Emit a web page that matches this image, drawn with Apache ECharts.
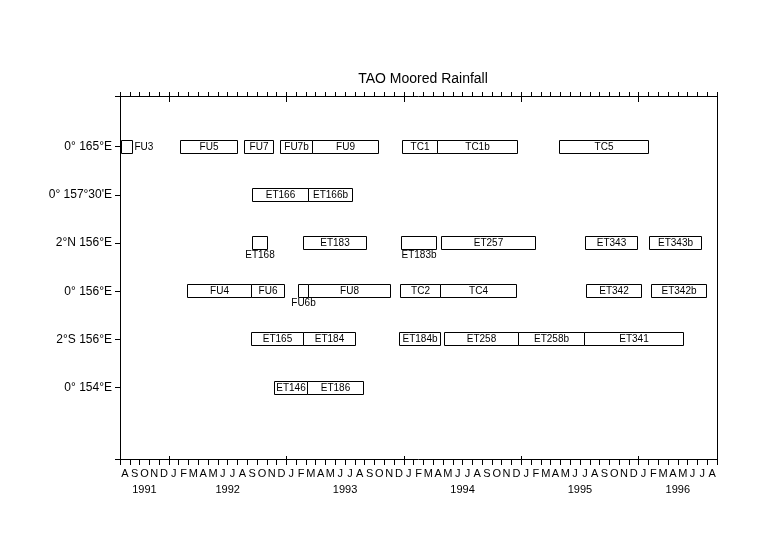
<!DOCTYPE html>
<html><head><meta charset="utf-8">
<script src="https://cdn.jsdelivr.net/npm/echarts@6/dist/echarts.min.js"></script>
<style>html,body{margin:0;padding:0;background:#fff}#chart{width:770px;height:550px}</style>
</head><body><div id="chart"></div>
<script>
// x values are months since 1 Aug 1991 (0 = 1 Aug 1991, 61 = 1 Sep 1996)
const rowLabels = ['0° 165°E', '0° 157°30\'E', '2°N 156°E', '0° 156°E', '2°S 156°E', '0° 154°E'];
const monthLetters = ['J','F','M','A','M','J','J','A','S','O','N','D'];
const yearLabels = ['1991','1992','1993','1994','1995','1996'];
const yearLabelAt = [2.5, 11, 23, 35, 47, 57];
const yearStartAt = [5, 17, 29, 41, 53];

const deployName  = ['FU3','FU5','FU7','FU7b','FU9','TC1','TC1b','TC5',
                     'ET166','ET166b',
                     'ET168','ET183','ET183b','ET257','ET343','ET343b',
                     'FU4','FU6','FU6b','FU8','TC2','TC4','ET342','ET342b',
                     'ET165','ET184','ET184b','ET258','ET258b','ET341',
                     'ET146','ET186'];
const deployRow   = [1,1,1,1,1,1,1,1,
                     2,2,
                     3,3,3,3,3,3,
                     4,4,4,4,4,4,4,4,
                     5,5,5,5,5,5,
                     6,6];
const deployStart = [0.10, 6.13, 12.68, 16.36, 19.60, 28.80, 32.40, 44.90,
                     13.46, 19.25,
                     13.50, 18.65, 28.70, 32.80, 47.50, 54.10,
                     6.88, 13.36, 18.23, 19.25, 28.56, 32.70, 47.60, 54.26,
                     13.36, 18.65, 28.46, 33.06, 40.70, 47.40,
                     15.70, 19.15];
const deployEnd   = [1.20, 12.00, 15.60, 19.60, 26.40, 32.40, 40.60, 53.95,
                     19.25, 23.75,
                     15.00, 25.10, 32.30, 42.40, 52.80, 59.40,
                     13.36, 16.77, 19.25, 27.60, 32.70, 40.46, 53.20, 59.90,
                     18.65, 24.00, 32.65, 40.70, 47.40, 57.50,
                     19.15, 24.80];

// label placement for boxes too small to hold their label
const labelOutside = {FU3: 'right', ET168: 'bottom', ET183b: 'bottom', FU6b: 'bottom'};

const X_MIN = 0, X_MAX = 61, Y_MIN = -0.05, Y_MAX = 7.48;
const FONT = '"Liberation Sans", Arial, sans-serif';

const monthCenters = [];
for (let k = X_MIN; k < X_MAX; k++) monthCenters.push(k + 0.5);

const data = deployName.map((n, i) => [deployStart[i], deployEnd[i], deployRow[i], n]);

function renderItem(params, api) {
  const s = api.coord([api.value(0), api.value(2)]);
  const e = api.coord([api.value(1), api.value(2)]);
  const h = 13;
  const x0 = Math.round(s[0]) + 0.5, x1 = Math.round(e[0]) + 0.5;
  const yc = Math.round(s[1]);
  const y0 = yc - 6.5;
  const name = deployName[params.dataIndex];
  const place = labelOutside[name];
  let tx = (x0 + x1) / 2, ty = yc, ta = 'center', tv = 'middle';
  if (place === 'right') { tx = x1 + 2; ta = 'left'; }
  else if (place === 'bottom') { ty = y0 + h + 1; tv = 'top'; }
  return {
    type: 'group',
    children: [
      {type: 'rect', shape: {x: x0, y: y0, width: x1 - x0, height: h},
       style: {fill: '#fff', stroke: '#000', lineWidth: 1}},
      {type: 'text', x: tx, y: ty,
       style: {text: name, align: ta, verticalAlign: tv, fill: '#000',
               font: '10px ' + FONT}}
    ]
  };
}

const baseX = {type: 'value', min: X_MIN, max: X_MAX, splitLine: {show: false}};
const black = {color: '#000', width: 1};

const option = {
  animation: false,
  backgroundColor: '#fff',
  title: {
    text: 'TAO Moored Rainfall', left: 418, top: 67, textAlign: 'center',
    textStyle: {fontFamily: FONT, fontSize: 14, fontWeight: 'normal', color: '#000'}
  },
  grid: {left: 120, right: 53, top: 96, bottom: 91, containLabel: false},
  xAxis: [
    Object.assign({}, baseX, {position: 'bottom', interval: 1,
      axisLine: {show: true, onZero: false, lineStyle: black},
      axisTick: {show: true, length: 6, lineStyle: black},
      axisLabel: {show: false}}),
    Object.assign({}, baseX, {position: 'bottom',
      axisLine: {show: false, onZero: false},
      axisTick: {show: true, inside: true, length: 3, customValues: yearStartAt, lineStyle: black},
      axisLabel: {show: true, customValues: monthCenters, margin: 9,
        formatter: v => monthLetters[(Math.floor(v) + 7) % 12],
        color: '#000', fontFamily: FONT, fontSize: 11}}),
    Object.assign({}, baseX, {position: 'bottom',
      axisLine: {show: false, onZero: false},
      axisTick: {show: false},
      axisLabel: {show: true, customValues: yearLabelAt, margin: 25,
        formatter: v => yearLabels[yearLabelAt.indexOf(v)],
        color: '#000', fontFamily: FONT, fontSize: 11}}),
    Object.assign({}, baseX, {position: 'top', interval: 1,
      axisLine: {show: true, onZero: false, lineStyle: black},
      axisTick: {show: true, length: 4, lineStyle: black},
      axisLabel: {show: false}}),
    Object.assign({}, baseX, {position: 'top',
      axisLine: {show: false, onZero: false},
      axisTick: {show: true, inside: true, length: 6, customValues: yearStartAt, lineStyle: black},
      axisLabel: {show: false}})
  ],
  yAxis: [
    {type: 'value', inverse: true, min: Y_MIN, max: Y_MAX, position: 'left',
     splitLine: {show: false},
     axisLine: {show: true, onZero: false, lineStyle: black},
     axisTick: {show: true, length: 5, customValues: [Y_MIN, 1, 2, 3, 4, 5, 6, Y_MAX], lineStyle: black},
     axisLabel: {show: true, customValues: [1, 2, 3, 4, 5, 6], margin: 8,
       formatter: v => rowLabels[Math.round(v) - 1],
       color: '#000', fontFamily: FONT, fontSize: 12}},
    {type: 'value', inverse: true, min: Y_MIN, max: Y_MAX, position: 'right',
     splitLine: {show: false},
     axisLine: {show: true, onZero: false, lineStyle: black},
     axisTick: {show: false}, axisLabel: {show: false}}
  ],
  series: [{
    type: 'custom', xAxisIndex: 0, yAxisIndex: 0,
    renderItem: renderItem,
    encode: {x: [0, 1], y: 2},
    data: data,
    clip: false
  }]
};

const chart = echarts.init(document.getElementById('chart'), null, {renderer: 'canvas'});
chart.setOption(option);
</script>
</body></html>
